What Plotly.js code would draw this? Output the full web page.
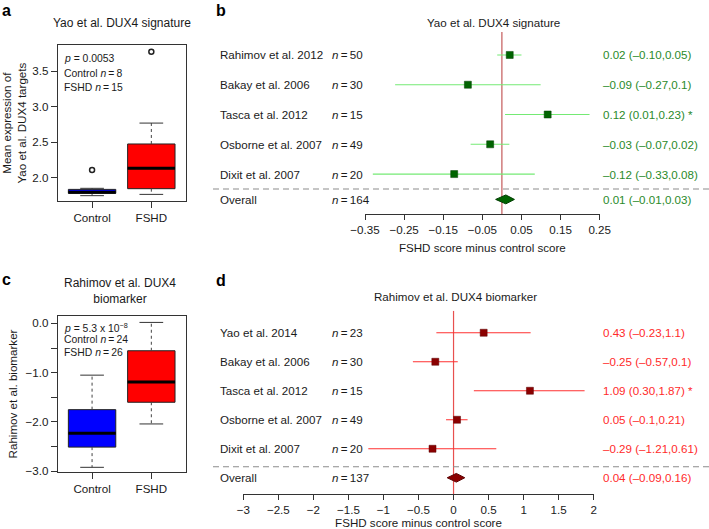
<!DOCTYPE html>
<html>
<head>
<meta charset="utf-8">
<script src="https://cdn.plot.ly/plotly-3.0.1.min.js"></script>
<style>html,body{margin:0;padding:0;background:#fff;}#chart{width:709px;height:529px;}</style>
</head>
<body>
<div id="chart"></div>
<script>
// ---------- DATA ----------
// Panel a: Yao et al. DUX4 signature (box statistics)
const boxGroups = ['Control', 'FSHD'];
const boxPos = [1, 2];
const yaoLowerWhisker = [1.752, 1.77];
const yaoQ1 = [1.785, 1.85];
const yaoMedian = [1.80, 2.136];
const yaoQ3 = [1.84, 2.477];
const yaoUpperWhisker = [1.855, 2.77];
const yaoOutlierX = [1, 2];
const yaoOutlierY = [2.112, 3.77];
const yaoStats = ['<i>p</i> = 0.0053', 'Control <i>n</i>\u2009=\u20098', 'FSHD <i>n</i>\u2009=\u200915'];

// Panel c: Rahimov et al. DUX4 biomarker (box statistics)
const rahLowerWhisker = [-2.92, -2.04];
const rahQ1 = [-2.51, -1.60];
const rahMedian = [-2.23, -1.19];
const rahQ3 = [-1.75, -0.555];
const rahUpperWhisker = [-1.05, 0.02];
const rahStats = ['<i>p</i> = 5.3 x 10<sup>\u22128</sup>', 'Control <i>n</i>\u2009=\u200924', 'FSHD <i>n</i>\u2009=\u200926'];
const rahTickVals = [-3, -2, -1, 0];
const rahTickText = ['\u22123.0', '\u22122.0', '\u22121.0', '0.0'];

// Panel b: forest plot, Yao et al. DUX4 signature
const studiesB = ['Rahimov et al. 2012', 'Bakay et al. 2006', 'Tasca et al. 2012', 'Osborne et al. 2007', 'Dixit et al. 2007'];
const nB = [50, 30, 15, 49, 20];
const estB = [0.02, -0.087, 0.117, -0.03, -0.122];
const loB = [-0.012, -0.273, 0.008, -0.08, -0.33];
const hiB = [0.05, 0.099, 0.224, 0.019, 0.084];
const ciTextB = ['0.02 (\u20130.10,0.05)', '\u20130.09 (\u20130.27,0.1)', '0.12 (0.01,0.23) *', '\u20130.03 (\u20130.07,0.02)', '\u20130.12 (\u20130.33,0.08)'];
const overallB = [-0.016, 0.01, 0.032]; // lo, est, hi
const overallNB = 164;
const overallTextB = '0.01 (\u20130.01,0.03)';
const tickValsB = [-0.35, -0.25, -0.15, -0.05, 0.05, 0.15, 0.25];
const tickTextB = ['\u22120.35', '\u22120.25', '\u22120.15', '\u22120.05', '0.05', '0.15', '0.25'];

// Panel d: forest plot, Rahimov et al. DUX4 biomarker
const studiesD = ['Yao et al. 2014', 'Bakay et al. 2006', 'Tasca et al. 2012', 'Osborne et al. 2007', 'Dixit et al. 2007'];
const nD = [23, 30, 15, 49, 20];
const estD = [0.43, -0.26, 1.09, 0.05, -0.30];
const loD = [-0.245, -0.58, 0.29, -0.107, -1.216];
const hiD = [1.10, 0.06, 1.87, 0.20, 0.61];
const ciTextD = ['0.43 (\u20130.23,1.1)', '\u20130.25 (\u20130.57,0.1)', '1.09 (0.30,1.87) *', '0.05 (\u20130.1,0.21)', '\u20130.29 (\u20131.21,0.61)'];
const overallD = [-0.09, 0.04, 0.16];
const overallND = 137;
const overallTextD = '0.04 (\u20130.09,0.16)';
const tickValsD = [-3, -2.5, -2, -1.5, -1, -0.5, 0, 0.5, 1, 1.5, 2];
const tickTextD = ['\u22123', '\u22122.5', '\u22122', '\u22121.5', '\u22121', '\u22120.5', '0', '0.5', '1', '1.5', '2'];

// ---------- LAYOUT HELPERS ----------
const W = 709, H = 529;
const FONT = 'Liberation Sans, Arial, Helvetica, sans-serif';
const TXT = '#1a1a1a';
const px = x => x / W;
const py = y => 1 - y / H;

const traces = [];
const annotations = [];
const shapes = [];

// ---------- BOX PANELS ----------
function boxPanel(xa, ya, lw, q1, med, q3, uw, fills) {
  for (let i = 0; i < boxPos.length; i++) {
    traces.push({
      type: 'box', xaxis: xa, yaxis: ya, x: [boxPos[i]],
      q1: [q1[i]], median: [med[i]], q3: [q3[i]],
      lowerfence: [q1[i]], upperfence: [q3[i]],
      width: 0.8, whiskerwidth: 0, boxpoints: false,
      fillcolor: fills[i], line: {color: '#222', width: 1}, showlegend: false, hoverinfo: 'skip'
    });
    traces.push({
      type: 'scatter', mode: 'lines', xaxis: xa, yaxis: ya,
      x: [boxPos[i], boxPos[i], null, boxPos[i], boxPos[i]],
      y: [q3[i], uw[i], null, q1[i], lw[i]],
      line: {color: '#444', width: 1, dash: '3px,3px'}, showlegend: false, hoverinfo: 'skip'
    });
    traces.push({
      type: 'scatter', mode: 'lines', xaxis: xa, yaxis: ya,
      x: [boxPos[i] - 0.2, boxPos[i] + 0.2, null, boxPos[i] - 0.2, boxPos[i] + 0.2],
      y: [uw[i], uw[i], null, lw[i], lw[i]],
      line: {color: '#333', width: 1}, showlegend: false, hoverinfo: 'skip'
    });
    traces.push({
      type: 'scatter', mode: 'lines', xaxis: xa, yaxis: ya,
      x: [boxPos[i] - 0.4, boxPos[i] + 0.4], y: [med[i], med[i]],
      line: {color: '#000', width: 3}, showlegend: false, hoverinfo: 'skip'
    });
  }
}
boxPanel('x', 'y', yaoLowerWhisker, yaoQ1, yaoMedian, yaoQ3, yaoUpperWhisker, ['#0000FF', '#FF0000']);
traces.push({
  type: 'scatter', mode: 'markers', xaxis: 'x', yaxis: 'y', x: yaoOutlierX, y: yaoOutlierY,
  marker: {symbol: 'circle-open', size: 5, color: '#222', line: {width: 1.5}}, showlegend: false, hoverinfo: 'skip'
});
boxPanel('x3', 'y3', rahLowerWhisker, rahQ1, rahMedian, rahQ3, rahUpperWhisker, ['#0000FF', '#FF0000']);

yaoStats.forEach((t, i) => annotations.push({
  xref: 'paper', yref: 'paper', x: px(62), y: py(59 + i * 14.2), xanchor: 'left', yanchor: 'middle',
  text: t, showarrow: false, font: {family: FONT, size: 10.4, color: TXT}
}));
rahStats.forEach((t, i) => annotations.push({
  xref: 'paper', yref: 'paper', x: px(62), y: py(327 + i * 12.5), xanchor: 'left', yanchor: 'middle',
  text: t, showarrow: false, font: {family: FONT, size: 10.4, color: TXT}
}));

// ---------- FOREST PANELS ----------
function forestPanel(xa, ya, yref, studies, n, est, lo, hi, ciText, overall, overallN, overallText, overallY, dashY, yExt, colors) {
  const rows = studies.map((s, i) => i);
  traces.push({type: 'scatter', mode: 'lines', xaxis: xa, yaxis: ya, x: [0, 0], y: yExt,
    line: {color: colors.zero, width: colors.zw}, showlegend: false, hoverinfo: 'skip', cliponaxis: false});
  const ex = [], ey = [];
  rows.forEach(i => { ex.push(lo[i], hi[i], null); ey.push(i, i, null); });
  traces.push({type: 'scatter', mode: 'lines', xaxis: xa, yaxis: ya, x: ex, y: ey,
    line: {color: colors.ci, width: 1.1}, showlegend: false, hoverinfo: 'skip'});
  traces.push({type: 'scatter', mode: 'markers', xaxis: xa, yaxis: ya, x: est, y: rows,
    marker: {symbol: 'square', size: 7, color: colors.pt, line: {color: colors.ptLine, width: 0.5}}, showlegend: false, hoverinfo: 'skip'});
  const h = 0.15;
  traces.push({type: 'scatter', mode: 'lines', xaxis: xa, yaxis: ya, fill: 'toself',
    x: [overall[0], overall[1], overall[2], overall[1], overall[0]],
    y: [overallY, overallY - h, overallY, overallY + h, overallY],
    fillcolor: colors.pt, line: {color: colors.ptLine, width: 1}, showlegend: false, hoverinfo: 'skip'});
  const f = {family: FONT, size: 11.6, color: TXT};
  rows.forEach(i => {
    annotations.push({xref: 'paper', yref: yref, x: px(217.5), y: i, xanchor: 'left', yanchor: 'middle', text: studies[i], showarrow: false, font: f});
    annotations.push({xref: 'paper', yref: yref, x: px(329.5), y: i, xanchor: 'left', yanchor: 'middle', text: '<i>n</i>\u2009=\u2009' + n[i], showarrow: false, font: f});
    annotations.push({xref: 'paper', yref: yref, x: px(600.5), y: i, xanchor: 'left', yanchor: 'middle', text: ciText[i], showarrow: false, font: {family: FONT, size: 11.6, color: colors.text}});
  });
  annotations.push({xref: 'paper', yref: yref, x: px(217.5), y: overallY, xanchor: 'left', yanchor: 'middle', text: 'Overall', showarrow: false, font: f});
  annotations.push({xref: 'paper', yref: yref, x: px(329.5), y: overallY, xanchor: 'left', yanchor: 'middle', text: '<i>n</i>\u2009=\u2009' + overallN, showarrow: false, font: f});
  annotations.push({xref: 'paper', yref: yref, x: px(600.5), y: overallY, xanchor: 'left', yanchor: 'middle', text: overallText, showarrow: false, font: {family: FONT, size: 11.6, color: colors.text}});
  shapes.push({type: 'line', xref: 'paper', yref: yref, x0: px(213), x1: 1, y0: dashY, y1: dashY, line: {color: '#8c8c8c', width: 1.2, dash: '6px,4px'}});
}
forestPanel('x2', 'y2', 'y2', studiesB, nB, estB, loB, hiB, ciTextB, overallB, overallNB, overallTextB, 4.85, 4.5, [-0.77, 5.35],
  {ci: '#74EA74', pt: '#006400', ptLine: '#003c00', text: '#2A8A2A', zero: '#B83A3A', zw: 1});
forestPanel('x4', 'y4', 'y4', studiesD, nD, estD, loD, hiD, ciTextD, overallD, overallND, overallTextD, 5.0, 4.62, [-0.76, 5.56],
  {ci: '#FF3030', pt: '#8B0000', ptLine: '#5a0000', text: '#FF2A2A', zero: '#E8504F', zw: 1.2});

// ---------- TITLES & LETTERS ----------
const titleFont = {family: FONT, size: 12, color: TXT};
annotations.push({xref: 'paper', yref: 'paper', x: px(122), y: py(23), xanchor: 'center', yanchor: 'middle', text: 'Yao et al. DUX4 signature', showarrow: false, font: titleFont});
annotations.push({xref: 'paper', yref: 'paper', x: px(120), y: py(291), xanchor: 'center', yanchor: 'middle', text: 'Rahimov et al. DUX4<br>biomarker', showarrow: false, font: titleFont});
annotations.push({xref: 'paper', yref: 'paper', x: px(493), y: py(23), xanchor: 'center', yanchor: 'middle', text: 'Yao et al. DUX4 signature', showarrow: false, font: {family: FONT, size: 11.6, color: TXT}});
annotations.push({xref: 'paper', yref: 'paper', x: px(455), y: py(296), xanchor: 'center', yanchor: 'middle', text: 'Rahimov et al. DUX4 biomarker', showarrow: false, font: {family: FONT, size: 11.6, color: TXT}});
[['a', 0, 0, 'top'], ['b', 214.5, 0, 'top'], ['c', 0, 279, 'middle'], ['d', 214.5, 280, 'middle']].forEach(l => annotations.push({
  xref: 'paper', yref: 'paper', x: px(l[1]), y: py(l[2]), xanchor: 'left', yanchor: l[3],
  text: '<b>' + l[0] + '</b>', showarrow: false, font: {family: FONT, size: 16, color: '#000'}
}));

// ---------- AXES ----------
const tickFont = {family: FONT, size: 11.6, color: TXT};
const boxX = (dom) => ({domain: dom, range: [0.42, 2.58], tickvals: boxPos, ticktext: boxGroups, ticks: 'outside', ticklen: 6,
  tickcolor: '#333', showline: true, mirror: true, linecolor: '#333', linewidth: 1, showgrid: false, zeroline: false, tickfont: tickFont, fixedrange: true});
const forestX = (dom, range, tv, tt, anchor, so) => ({domain: dom, range: range, tickvals: tv, ticktext: tt, ticks: 'outside', ticklen: 5,
  tickcolor: '#333', showline: true, linecolor: '#333', linewidth: 1, showgrid: false, zeroline: false, tickfont: tickFont, anchor: anchor,
  title: {text: 'FSHD score minus control score', font: tickFont, standoff: so}});
const hiddenY = (dom, range, anchor) => ({domain: dom, range: range, visible: false, showline: false, zeroline: false, showgrid: false, anchor: anchor});

const layout = {
  width: W, height: H, margin: {l: 0, r: 0, t: 0, b: 0}, paper_bgcolor: '#fff', plot_bgcolor: 'rgba(0,0,0,0)',
  showlegend: false, font: {family: FONT, color: TXT},
  xaxis: Object.assign(boxX([px(57.7), px(185.7)]), {anchor: 'y'}),
  yaxis: {domain: [py(201.3), py(45)], range: [1.673, 3.865], tickvals: [2.0, 2.5, 3.0, 3.5], tickformat: '.1f', anchor: 'x',
    ticks: 'outside', ticklen: 6, tickcolor: '#333', showline: true, mirror: true, linecolor: '#333', linewidth: 1, showgrid: false, zeroline: false,
    tickfont: tickFont, title: {text: 'Mean expression of<br>Yao et al. DUX4 targets', font: tickFont, standoff: 7}},
  xaxis3: Object.assign(boxX([px(57.7), px(185.7)]), {anchor: 'y3'}),
  yaxis3: {domain: [py(472), py(316)], range: [-3.015, 0.15], tickvals: rahTickVals, ticktext: rahTickText, anchor: 'x3',
    ticks: 'outside', ticklen: 6, tickcolor: '#333', showline: true, mirror: true, linecolor: '#333', linewidth: 1, showgrid: false, zeroline: false,
    minor: {ticks: 'outside', ticklen: 6, tick0: 0, dtick: 0.5, tickcolor: '#333', showgrid: false},
    tickfont: tickFont, title: {text: 'Rahimov et al. biomarker', font: tickFont, standoff: 5}},
  xaxis2: forestX([px(365), px(599.7)], [-0.35, 0.25], tickValsB, tickTextB, 'y2', 8),
  yaxis2: hiddenY([py(214.3), py(32)], [5.35, -0.77], 'x2'),
  xaxis4: forestX([px(243.3), px(593.7)], [-3, 2], tickValsD, tickTextD, 'y4', 6),
  yaxis4: hiddenY([py(494), py(310.7)], [5.56, -0.76], 'x4'),
  annotations: annotations, shapes: shapes
};

Plotly.newPlot('chart', traces, layout, {staticPlot: true, displayModeBar: false});
</script>
</body>
</html>
